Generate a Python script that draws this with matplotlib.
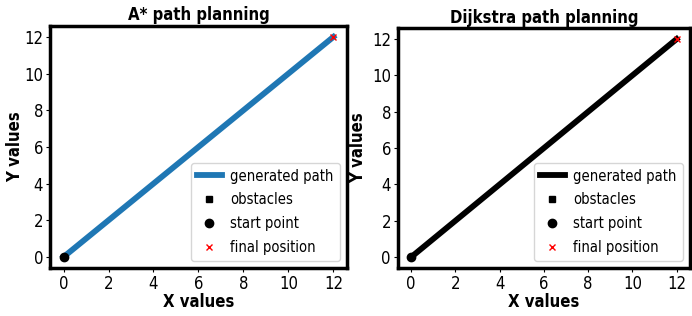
import matplotlib
matplotlib.use("Agg")
import matplotlib.pyplot as plt

# Dados dos caminhos (de (0,0) ate (12,12))
path_x = [0, 12]
path_y = [0, 12]
start_x = [0]
start_y = [0]
goal_x = [12]
goal_y = [12]
obstacles_x = []
obstacles_y = []

plt.rcParams['font.family'] = ['DejaVu Sans']
plt.rcParams['font.stretch'] = 'condensed'

fig = plt.figure(figsize=(6.92, 3.16), dpi=100)
ax1 = fig.add_axes([0.0723, 0.152, 0.429, 0.766])
ax2 = fig.add_axes([0.575, 0.152, 0.422, 0.759])

configs = [(ax1, "A* path planning", "tab:blue", -0.088),
           (ax2, "Dijkstra path planning", "black", -0.106)]

for ax, titulo, cor, ylab_x in configs:
    ax.plot(path_x, path_y, color=cor, linewidth=4.2, label="generated path")
    ax.plot(obstacles_x, obstacles_y, 's', color='black', markersize=5, label="obstacles")
    ax.plot(start_x, start_y, 'o', color='black', markersize=6, label="start point")
    ax.plot(goal_x, goal_y, 'x', color='red', markersize=5, label="final position")
    ax.set_title(titulo, fontsize=12, fontweight='bold', pad=4)
    ax.set_xlabel("X values", fontsize=12, fontweight='bold', labelpad=0)
    ax.set_ylabel("Y values", fontsize=12, fontweight='bold')
    ax.yaxis.set_label_coords(ylab_x, 0.5)
    ax.set_xticks(range(0, 13, 2))
    ax.set_yticks(range(0, 13, 2))
    ax.tick_params(labelsize=12, length=3, pad=2)
    for spine in ax.spines.values():
        spine.set_linewidth(2.5)
    ax.legend(loc='lower right', fontsize=10.5, labelspacing=0.6,
              handlelength=1.7, handletextpad=0.6)

fig.savefig("out.png", dpi=100)
